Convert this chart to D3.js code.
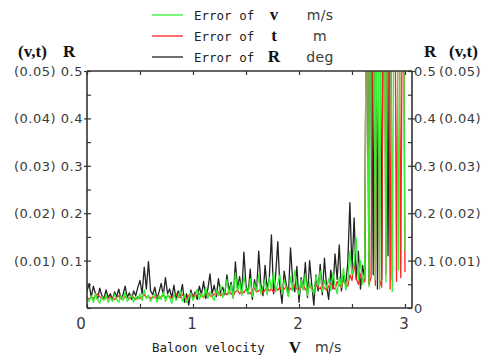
<!DOCTYPE html>
<html><head><meta charset="utf-8">
<script src="https://cdn.jsdelivr.net/npm/d3@7"></script>
<style>
body{margin:0;background:#fff;}
svg{display:block;}
.tick-lbl{font-family:"DejaVu Sans",sans-serif;font-size:13px;fill:#3a3a3a;letter-spacing:0.5px;}
.mono{font-family:"DejaVu Sans Mono",monospace;font-size:12.5px;fill:#222;}
.bser{font-family:"Liberation Serif",serif;font-weight:bold;fill:#111;}
</style></head>
<body>
<script>
// ---- data ----
const xStart = 0, xStep = 0.02;           // baloon velocity grid (m/s)
const errR = [ // deg (black)
.035,.052,.022,.046,.030,.018,.042,.026,.020,.038,.022,
.030,.018,.034,.024,.040,.020,.028,.046,.022,.032,.018,.036,.026,.044,
.058,.030,.086,.040,.098,.036,
.028,.044,.020,.034,.052,.026,.064,.030,.040,.022,.048,.018,.036,.026,.050,.012,.030,.006,.038,.022,
.034,.018,.046,.028,.056,.020,.040,.072,.030,.048,.024,.062,.032,.044,
.028,.070,.036,.054,.022,.097,.040,.066,.030,.118,.048,.030,.082,.018,.060,.036,.120,.050,.026,.090,.040,.064,.154,.030,.070,.140,
.044,.010,.078,.050,.026,.127,.058,.034,.088,.012,.064,.040,.096,.022,.100,.050,.006,.070,.036,.092,.028,.105,.046,.018,
.080,.040,.114,.060,.133,.036,.070,.050,.094,.222,.080,.190,.060,.120,.040,.090,
.060,.900,.050,.900,.070,.900,.040,.900,.060,.900,.900,.110,.900,.060];
const errT = [ // m (red, x10)
.022,.018,.024,.020,.026,.030,.024,.020,.018,.022,.020,
.024,.020,.018,.022,.026,.020,.018,.024,.022,.020,.026,.022,.018,.024,
.020,.024,.028,.022,.026,.020,
.024,.022,.026,.020,.024,.028,.022,.026,.024,.020,.026,.030,.024,.022,.028,.024,.020,.026,.030,.024,
.028,.024,.030,.026,.022,.028,.032,.026,.024,.030,.028,.034,.026,.030,
.032,.028,.036,.030,.026,.034,.038,.030,.036,.032,.040,.034,.030,.038,.042,.034,.036,.040,.032,.038,.044,.036,.040,.034,.042,.038,
.044,.036,.040,.046,.034,.042,.038,.048,.040,.036,.044,.050,.038,.042,.046,.040,.036,.048,.044,.040,.050,.042,.038,.046,
.052,.044,.040,.056,.048,.044,.060,.050,.046,.070,.058,.095,.062,.050,.072,.060,
.055,.900,.050,.064,.900,.048,.900,.060,.044,.900,.072,.900,.040,.900,.900,.056,.900,.064,.900,.076];
const errV = [ // m/s (green, x10)
.020,.014,.026,.012,.030,.018,.010,.024,.016,.028,.012,
.022,.014,.030,.018,.012,.026,.016,.034,.014,.020,.028,.012,.024,.018,
.030,.016,.038,.020,.026,.014,
.022,.030,.012,.026,.018,.034,.014,.028,.020,.010,.030,.016,.024,.036,.014,.028,.012,.022,.032,.016,
.026,.040,.018,.030,.022,.044,.020,.034,.024,.016,.038,.026,.048,.022,
.036,.060,.028,.050,.020,.074,.034,.056,.026,.068,.040,.030,.062,.024,.052,.036,.070,.030,.046,.058,.028,.064,.040,.076,.034,.052,
.070,.030,.058,.042,.024,.066,.036,.080,.044,.028,.060,.038,.072,.026,.054,.040,.030,.068,.046,.078,.034,.058,.042,.062,
.036,.074,.048,.030,.066,.044,.084,.038,.056,.120,.070,.090,.148,.060,.100,.050,
.070,.900,.045,.900,.900,.060,.900,.040,.900,.900,.055,.900,.900,.035,.900,.900,.080,.900,.900,.120];
const xTicks = [0,1,2,3];
const yTicksR = [0.1,0.2,0.3,0.4,0.5];
const yTicksVT = ["(0.01)","(0.02)","(0.03)","(0.04)","(0.05)"];
const legendItems = [
  {name:"Error of", sym:"v", unit:"m/s", color:"#33f033"},
  {name:"Error of", sym:"t", unit:"m", color:"#ff2020"},
  {name:"Error of", sym:"R", unit:"deg", color:"#222"}
];

// ---- chart ----
const W=492,H=358, L=87, R=412, T=71, B=308;
const svg = d3.select("body").append("svg").attr("width",W).attr("height",H);
const x = d3.scaleLinear().domain([0,3]).range([L,405]);
const y = d3.scaleLinear().domain([0,0.5]).range([B,T]);

svg.append("defs").append("clipPath").attr("id","clip")
  .append("rect").attr("x",L).attr("y",T).attr("width",R-L).attr("height",B-T);

const line = d3.line().x((d,i)=>x(xStart+i*xStep)).y(d=>y(d));
const plot = svg.append("g").attr("clip-path","url(#clip)");
[[errR,"#222"],[errT,"#ff2020"],[errV,"#33f033"]].forEach(([arr,c])=>{
  plot.append("path").datum(arr).attr("d",line).attr("fill","none")
    .attr("stroke",c).attr("stroke-width",1.3).attr("stroke-linejoin","round");
});

// axes
const axCol="#333";
const minorX = d3.range(0,3.01,0.5);
const gB = svg.append("g").attr("transform",`translate(0,${B})`)
  .call(d3.axisBottom(x).tickValues(minorX).tickSize(-4).tickFormat(""));
const gT = svg.append("g").attr("transform",`translate(0,${T})`)
  .call(d3.axisTop(x).tickValues(minorX).tickSize(-4).tickFormat(""));
const minorY = d3.range(0,0.501,0.05);
const gL = svg.append("g").attr("transform",`translate(${L},0)`)
  .call(d3.axisLeft(y).tickValues(minorY).tickSize(-4).tickFormat(""));
const gR = svg.append("g").attr("transform",`translate(${R},0)`)
  .call(d3.axisRight(y).tickValues(minorY).tickSize(-4).tickFormat(""));
// major outward ticks on y
svg.append("g").attr("transform",`translate(${L},0)`)
  .call(d3.axisLeft(y).tickValues(yTicksR).tickSize(3).tickFormat("")).select(".domain").remove();
svg.append("g").attr("transform",`translate(${R},0)`)
  .call(d3.axisRight(y).tickValues(yTicksR).tickSize(3).tickFormat("")).select(".domain").remove();
svg.selectAll(".domain").attr("stroke",axCol).attr("stroke-width",1.6);
svg.selectAll(".tick line").attr("stroke",axCol).attr("stroke-width",1.2);
svg.selectAll(".domain").filter(function(){return this.parentNode===gB.node()||this.parentNode===gT.node();})
  .attr("d",`M${L},0H${R}`);
svg.selectAll(".domain").filter(function(){return this.parentNode===gL.node()||this.parentNode===gR.node();})
  .attr("d",`M0,${B}V${T}`);

// tick labels
svg.selectAll(".xl").data(xTicks).join("text").attr("class","tick-lbl")
  .attr("x",d=>x(d)+(d===0?-6:-1)).attr("y",329).attr("text-anchor","middle")
  .style("font-size","15px").style("letter-spacing","0px").text(d=>d);
svg.selectAll(".yl").data(yTicksR).join("text").attr("class","tick-lbl")
  .attr("x",83).attr("y",d=>y(d)+5).attr("text-anchor","end").text(d=>d);
svg.selectAll(".yl2").data(yTicksVT).join("text").attr("class","tick-lbl")
  .attr("x",56).attr("y",(d,i)=>y(yTicksR[i])+5).attr("text-anchor","end").text(d=>d);
svg.selectAll(".yr").data([0].concat(yTicksR)).join("text").attr("class","tick-lbl")
  .attr("x",414).attr("y",d=>y(d)+5).attr("text-anchor","start").text(d=>d);
svg.selectAll(".yr2").data(yTicksVT).join("text").attr("class","tick-lbl")
  .attr("x",439).attr("y",(d,i)=>y(yTicksR[i])+5).attr("text-anchor","start").text(d=>d);

// axis headers
const hs="17px";
svg.append("text").attr("class","bser").attr("x",18).attr("y",57).style("font-size",hs).text("(v,t)");
svg.append("text").attr("class","bser").attr("x",63).attr("y",57).style("font-size",hs).text("R");
svg.append("text").attr("class","bser").attr("x",424).attr("y",57).style("font-size",hs).text("R");
svg.append("text").attr("class","bser").attr("x",449).attr("y",57).style("font-size",hs).text("(v,t)");

// x title
svg.append("text").attr("class","mono").attr("x",152).attr("y",352).text("Baloon velocity");
svg.append("text").attr("class","bser").attr("x",295).attr("y",353).attr("text-anchor","middle").style("font-size","17px").text("V");
svg.append("text").attr("class","tick-lbl").attr("x",315).attr("y",352).style("font-size","14px").style("letter-spacing","0.3px").text("m/s");

// legend
const ly=[15,36,57];
legendItems.forEach((it,i)=>{
  svg.append("line").attr("x1",152).attr("x2",183).attr("y1",ly[i]).attr("y2",ly[i]).attr("stroke",it.color).attr("stroke-width",1.3);
  svg.append("text").attr("class","mono").attr("x",194).attr("y",ly[i]+4.5).text(it.name);
  svg.append("text").attr("class","bser").attr("x",274).attr("y",ly[i]+5).attr("text-anchor","middle").style("font-size","17px").text(it.sym);
  svg.append("text").attr("class","tick-lbl").attr("x",320).attr("y",ly[i]+5).attr("text-anchor","middle").style("font-size","14px").style("letter-spacing","0.3px").text(it.unit);
});
</script>
</body></html>
